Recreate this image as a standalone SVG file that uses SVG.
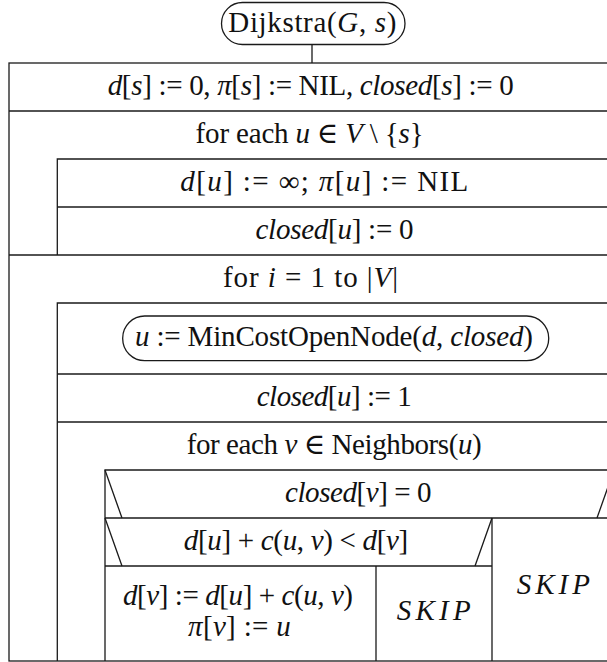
<svg xmlns="http://www.w3.org/2000/svg" width="607" height="662" viewBox="0 0 607 662">
<style>
.ln{stroke:#1a1a1a;stroke-width:1.3;fill:none}
.bx{stroke:#1a1a1a;stroke-width:1.3;fill:#fff}
text{font-family:"Liberation Serif","DejaVu Serif",serif;font-size:29px;fill:#111;text-anchor:middle}
.i{font-style:italic}
</style>
<rect width="607" height="662" fill="#fff"/>
<g id="connectors">
<line class="ln" x1="312" y1="44.5" x2="312" y2="63"/>
</g>
<g id="start">
<rect class="bx" x="221.5" y="2.5" width="183.5" height="42" rx="21" ry="21"/>
<text x="312.3" y="32" textLength="168" lengthAdjust="spacing">Dijkstra(<tspan class="i">G</tspan>, <tspan class="i">s</tspan>)</text>
</g>
<g id="frame">
<rect class="bx" x="9" y="63" width="610" height="598"/>
</g>
<g id="init">
<line class="ln" x1="9" y1="111" x2="614" y2="111"/>
<text x="310.7" y="95" textLength="406" lengthAdjust="spacing"><tspan class="i">d</tspan>[<tspan class="i">s</tspan>] := 0, <tspan class="i">π</tspan>[<tspan class="i">s</tspan>] := NIL, <tspan class="i">closed</tspan>[<tspan class="i">s</tspan>] := 0</text>
</g>
<g id="loop-u">
<text x="309.6" y="143" textLength="228" lengthAdjust="spacing">for each <tspan class="i">u</tspan> ∈ <tspan class="i">V</tspan> \ {<tspan class="i">s</tspan>}</text>
<path class="ln" d="M614 159H57.3V255"/>
</g>
<g id="set-inf">
<line class="ln" x1="57.3" y1="207" x2="614" y2="207"/>
<text x="324.3" y="191" textLength="288" lengthAdjust="spacing"><tspan class="i">d</tspan>[<tspan class="i">u</tspan>] := ∞;  <tspan class="i">π</tspan>[<tspan class="i">u</tspan>] := NIL</text>
</g>
<g id="set-closed">
<text x="334.5" y="239" textLength="158" lengthAdjust="spacing"><tspan class="i">closed</tspan>[<tspan class="i">u</tspan>] := 0</text>
</g>
<g id="loop-i">
<line class="ln" x1="9" y1="255" x2="614" y2="255"/>
<text x="310.5" y="287" textLength="175" lengthAdjust="spacing">for <tspan class="i">i</tspan> = 1 to |<tspan class="i">V</tspan>|</text>
<path class="ln" d="M614 303H57.3V661"/>
</g>
<g id="min-cost">
<rect class="bx" x="122.7" y="316" width="426" height="44.7" rx="22" ry="22"/>
<text x="334" y="346" textLength="398" lengthAdjust="spacing"><tspan class="i">u</tspan> := MinCostOpenNode(<tspan class="i">d</tspan>, <tspan class="i">closed</tspan>)</text>
<line class="ln" x1="57.3" y1="374" x2="614" y2="374"/>
</g>
<g id="close-u">
<text x="334.2" y="406" textLength="155" lengthAdjust="spacing"><tspan class="i">closed</tspan>[<tspan class="i">u</tspan>] := 1</text>
<line class="ln" x1="57.3" y1="422" x2="614" y2="422"/>
</g>
<g id="loop-v">
<text x="334.2" y="454" textLength="295" lengthAdjust="spacing">for each <tspan class="i">v</tspan> ∈ Neighbors(<tspan class="i">u</tspan>)</text>
<path class="ln" d="M614 470H105V661"/>
</g>
<g id="if-closed">
<line class="ln" x1="105" y1="470" x2="122" y2="518"/>
<line class="ln" x1="597" y1="518" x2="614" y2="470"/>
<text x="358.3" y="502" textLength="146.6" lengthAdjust="spacing"><tspan class="i">closed</tspan>[<tspan class="i">v</tspan>] = 0</text>
<line class="ln" x1="105" y1="518" x2="614" y2="518"/>
<line class="ln" x1="492" y1="518" x2="492" y2="661"/>
</g>
<g id="if-relax">
<line class="ln" x1="105" y1="518" x2="122" y2="566"/>
<line class="ln" x1="475" y1="566" x2="492" y2="518"/>
<text x="296" y="550" textLength="224.4" lengthAdjust="spacing"><tspan class="i">d</tspan>[<tspan class="i">u</tspan>] + <tspan class="i">c</tspan>(<tspan class="i">u</tspan>, <tspan class="i">v</tspan>) &lt; <tspan class="i">d</tspan>[<tspan class="i">v</tspan>]</text>
<line class="ln" x1="105" y1="566" x2="492" y2="566"/>
<line class="ln" x1="376" y1="566" x2="376" y2="661"/>
</g>
<g id="relax">
<text x="238" y="605" textLength="230" lengthAdjust="spacing"><tspan class="i">d</tspan>[<tspan class="i">v</tspan>] := <tspan class="i">d</tspan>[<tspan class="i">u</tspan>] + <tspan class="i">c</tspan>(<tspan class="i">u</tspan>, <tspan class="i">v</tspan>)</text>
<text x="239.4" y="636" textLength="102.7" lengthAdjust="spacing"><tspan class="i">π</tspan>[<tspan class="i">v</tspan>] := <tspan class="i">u</tspan></text>
</g>
<g id="skip-inner">
<text class="i" x="433.7" y="620" textLength="74" lengthAdjust="spacing">SKIP</text>
</g>
<g id="skip-outer">
<text class="i" x="553.3" y="594" textLength="73.3" lengthAdjust="spacing">SKIP</text>
</g>
</svg>
